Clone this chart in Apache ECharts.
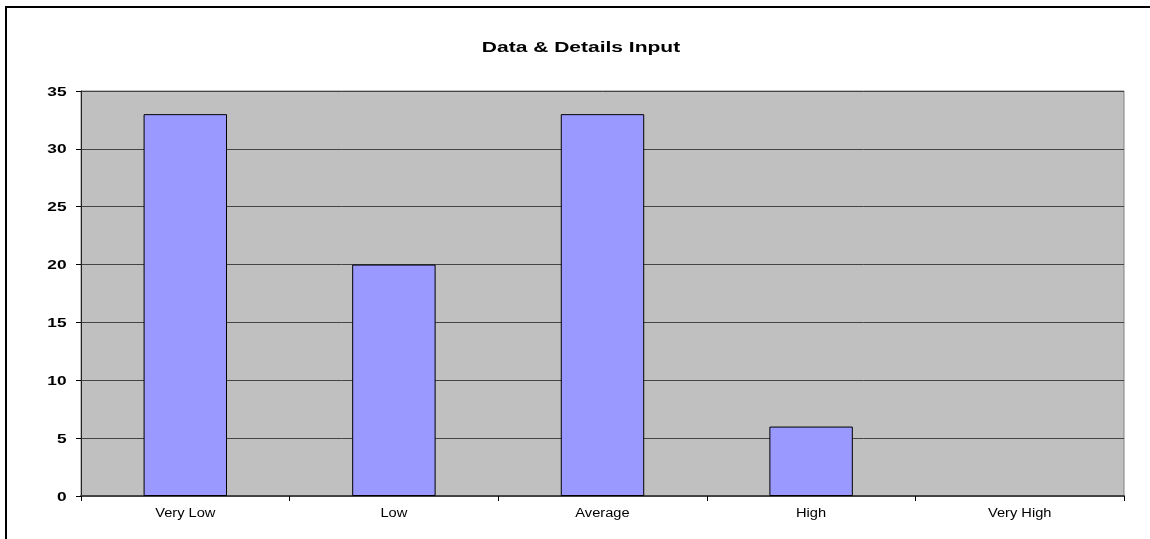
<!DOCTYPE html>
<html>
<head>
<meta charset="utf-8">
<script src="https://cdn.jsdelivr.net/npm/echarts@6/dist/echarts.min.js"></script>
<style>
  html, body { margin: 0; padding: 0; background: #fff; }
  #chart { width: 1150px; height: 539px; }
</style>
</head>
<body>
<div id="chart"></div>
<script>
const categories = ['Very Low', 'Low', 'Average', 'High', 'Very High'];
const counts = [33, 20, 33, 6, 0];
const yTickValues = [0, 5, 10, 15, 20, 25, 30, 35];
const titleText = 'Data & Details Input';

const FONT = 'Liberation Sans, Arial, sans-serif';
const chart = echarts.init(document.getElementById('chart'), null, { renderer: 'canvas' });

chart.setOption({
  animation: false,
  backgroundColor: '#ffffff',
  grid: {
    left: 81, top: 91, right: 26, bottom: 43,
    show: true,
    backgroundColor: '#C0C0C0',
    borderColor: '#808080',
    borderWidth: 1
  },
  xAxis: {
    type: 'category',
    data: categories,
    boundaryGap: true,
    axisLine: { lineStyle: { color: '#444', width: 2 } },
    axisTick: { show: true, length: 5, lineStyle: { color: '#000' } },
    axisLabel: { show: false }
  },
  yAxis: {
    type: 'value',
    min: yTickValues[0],
    max: yTickValues[yTickValues.length - 1],
    interval: yTickValues[1] - yTickValues[0],
    axisLine: { show: true, lineStyle: { color: '#222', width: 1 } },
    axisTick: { show: true, length: 5, lineStyle: { color: '#000' } },
    axisLabel: { show: false },
    splitLine: { show: true, lineStyle: { color: '#444', width: 1 } }
  },
  series: [{
    type: 'bar',
    data: counts.map(v => ({ value: v, itemStyle: { borderWidth: v === 0 ? 0 : 1 } })),
    barWidth: '40%',
    itemStyle: { color: '#9999FF', borderColor: '#000', borderWidth: 1 }
  }]
});

// Text is drawn horizontally widened, placed at the positions the axes give.
function wideText(text, x, y, size, weight, align, vAlign, sx) {
  return {
    type: 'text', x: x, y: y, scaleX: sx, silent: true, z: 10,
    style: {
      text: text, x: 0, y: 0, fill: '#000',
      fontFamily: FONT, fontSize: size, fontWeight: weight,
      align: align, verticalAlign: vAlign
    }
  };
}

const labels = [];
labels.push(wideText(titleText, 581, 48, 15, 'bold', 'center', 'middle', 1.4));
yTickValues.forEach(v => {
  const py = chart.convertToPixel({ yAxisIndex: 0 }, v);
  labels.push(wideText(String(v), 66.5, py + 1, 13, 'bold', 'right', 'middle', 1.33));
});
categories.forEach(c => {
  const px = chart.convertToPixel({ xAxisIndex: 0 }, c);
  labels.push(wideText(c, px, 508, 12, 'normal', 'center', 'top', 1.22));
});

chart.setOption({
  graphic: [{
    type: 'rect',
    shape: { x: 6, y: 7, width: 1300, height: 700 },
    style: { fill: 'none', stroke: '#000', lineWidth: 2 },
    silent: true
  }].concat(labels)
});
</script>
</body>
</html>
